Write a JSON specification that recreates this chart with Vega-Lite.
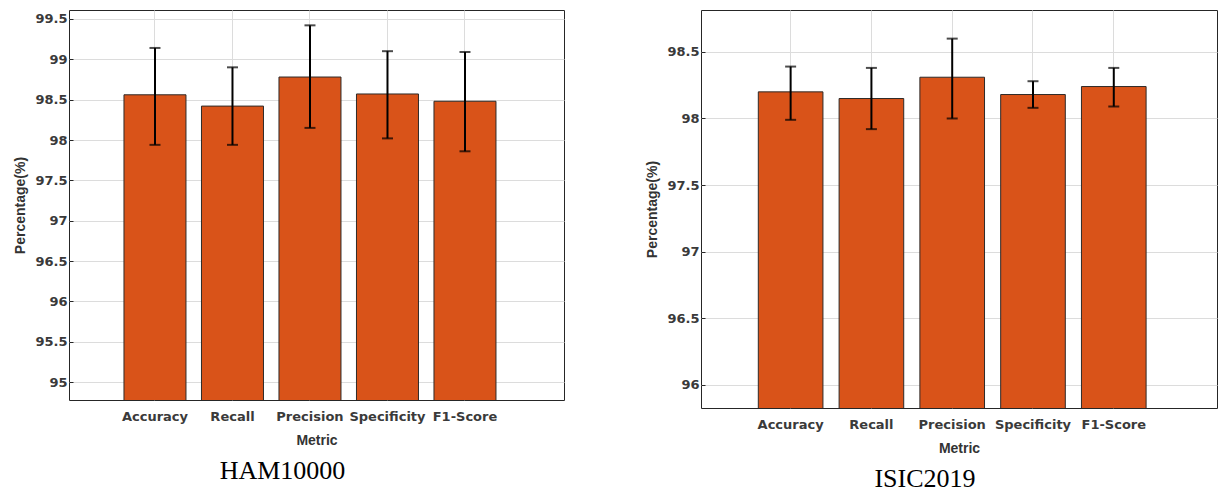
{
  "$schema": "https://vega.github.io/schema/vega-lite/v6.json",
  "background": "white",
  "padding": {"left": 13, "top": 9, "right": 0, "bottom": 0},
  "datasets": {
    "ham": [
      {"metric": "Accuracy", "value": 98.56, "lo": 97.94, "hi": 99.14},
      {"metric": "Recall", "value": 98.42, "lo": 97.94, "hi": 98.90},
      {"metric": "Precision", "value": 98.78, "lo": 98.15, "hi": 99.42},
      {"metric": "Specificity", "value": 98.57, "lo": 98.02, "hi": 99.10},
      {"metric": "F1-Score", "value": 98.48, "lo": 97.86, "hi": 99.09}
    ],
    "isic": [
      {"metric": "Accuracy", "value": 98.20, "lo": 97.99, "hi": 98.39},
      {"metric": "Recall", "value": 98.15, "lo": 97.92, "hi": 98.38},
      {"metric": "Precision", "value": 98.31, "lo": 98.00, "hi": 98.60},
      {"metric": "Specificity", "value": 98.18, "lo": 98.08, "hi": 98.28},
      {"metric": "F1-Score", "value": 98.24, "lo": 98.09, "hi": 98.38}
    ]
  },
  "bounds": "flush",
  "spacing": 137,
  "hconcat": [
    {
      "width": 495,
      "height": 390,
      "data": {"name": "ham"},
      "title": {"text": "HAM10000", "orient": "bottom", "anchor": "middle", "dx": -34, "offset": 11, "font": "Liberation Serif", "fontSize": 26, "fontWeight": "normal", "color": "#000000"},
      "encoding": {
        "x": {"field": "metric", "type": "nominal", "sort": ["Accuracy", "Recall", "Precision", "Specificity", "F1-Score"],
          "scale": {"type": "band", "paddingInner": 0.2, "paddingOuter": 0.7935, "align": 0.447},
          "axis": {"title": "Metric", "labelAngle": 0, "bandPosition": 0.5}}
      },
      "layer": [
        {"mark": {"type": "bar", "fill": "#D95319", "stroke": "#2e2a28", "strokeWidth": 1, "clip": true},
          "encoding": {"y": {"field": "value", "type": "quantitative",
            "scale": {"domain": [94.78, 99.61], "zero": false, "nice": false},
            "axis": {"title": "Percentage(%)", "values": [95, 95.5, 96, 96.5, 97, 97.5, 98, 98.5, 99, 99.5], "format": "~g"}}}},
        {"mark": {"type": "rule", "color": "#000000", "strokeWidth": 2},
          "encoding": {"y": {"field": "lo", "type": "quantitative"}, "y2": {"field": "hi"}}},
        {"mark": {"type": "tick", "color": "#000000", "thickness": 2, "size": 11},
          "encoding": {"y": {"field": "lo", "type": "quantitative"}}},
        {"mark": {"type": "tick", "color": "#000000", "thickness": 2, "size": 11},
          "encoding": {"y": {"field": "hi", "type": "quantitative"}}}
      ]
    },
    {
      "width": 516,
      "height": 398,
      "data": {"name": "isic"},
      "title": {"text": "ISIC2019", "orient": "bottom", "anchor": "middle", "dx": -34, "offset": 11, "font": "Liberation Serif", "fontSize": 26, "fontWeight": "normal", "color": "#000000"},
      "encoding": {
        "x": {"field": "metric", "type": "nominal", "sort": ["Accuracy", "Recall", "Precision", "Specificity", "F1-Score"],
          "scale": {"type": "band", "paddingInner": 0.2, "paddingOuter": 0.7935, "align": 0.447},
          "axis": {"title": "Metric", "labelAngle": 0, "bandPosition": 0.5}}
      },
      "layer": [
        {"mark": {"type": "bar", "fill": "#D95319", "stroke": "#2e2a28", "strokeWidth": 1, "clip": true},
          "encoding": {"y": {"field": "value", "type": "quantitative",
            "scale": {"domain": [95.825, 98.815], "zero": false, "nice": false},
            "axis": {"title": "Percentage(%)", "values": [96, 96.5, 97, 97.5, 98, 98.5], "format": "~g"}}}},
        {"mark": {"type": "rule", "color": "#000000", "strokeWidth": 2},
          "encoding": {"y": {"field": "lo", "type": "quantitative"}, "y2": {"field": "hi"}}},
        {"mark": {"type": "tick", "color": "#000000", "thickness": 2, "size": 11},
          "encoding": {"y": {"field": "lo", "type": "quantitative"}}},
        {"mark": {"type": "tick", "color": "#000000", "thickness": 2, "size": 11},
          "encoding": {"y": {"field": "hi", "type": "quantitative"}}}
      ]
    }
  ],
  "config": {
    "view": {"stroke": "#262626", "strokeWidth": 1},
    "axis": {
      "domain": false,
      "grid": true,
      "gridColor": "#dcdcdc",
      "gridWidth": 1,
      "ticks": true,
      "tickColor": "#262626",
      "tickSize": -4,
      "labelFont": "DejaVu Sans",
      "labelFontWeight": "bold",
      "labelFontSize": 13,
      "labelColor": "#3a3a3a",
      "titleFont": "Liberation Sans",
      "titleFontWeight": "bold",
      "titleFontSize": 14,
      "titleColor": "#333333"
    },
    "axisX": {"labelPadding": 14, "titlePadding": 10},
    "axisY": {"labelPadding": 6, "titlePadding": 7}
  }
}
